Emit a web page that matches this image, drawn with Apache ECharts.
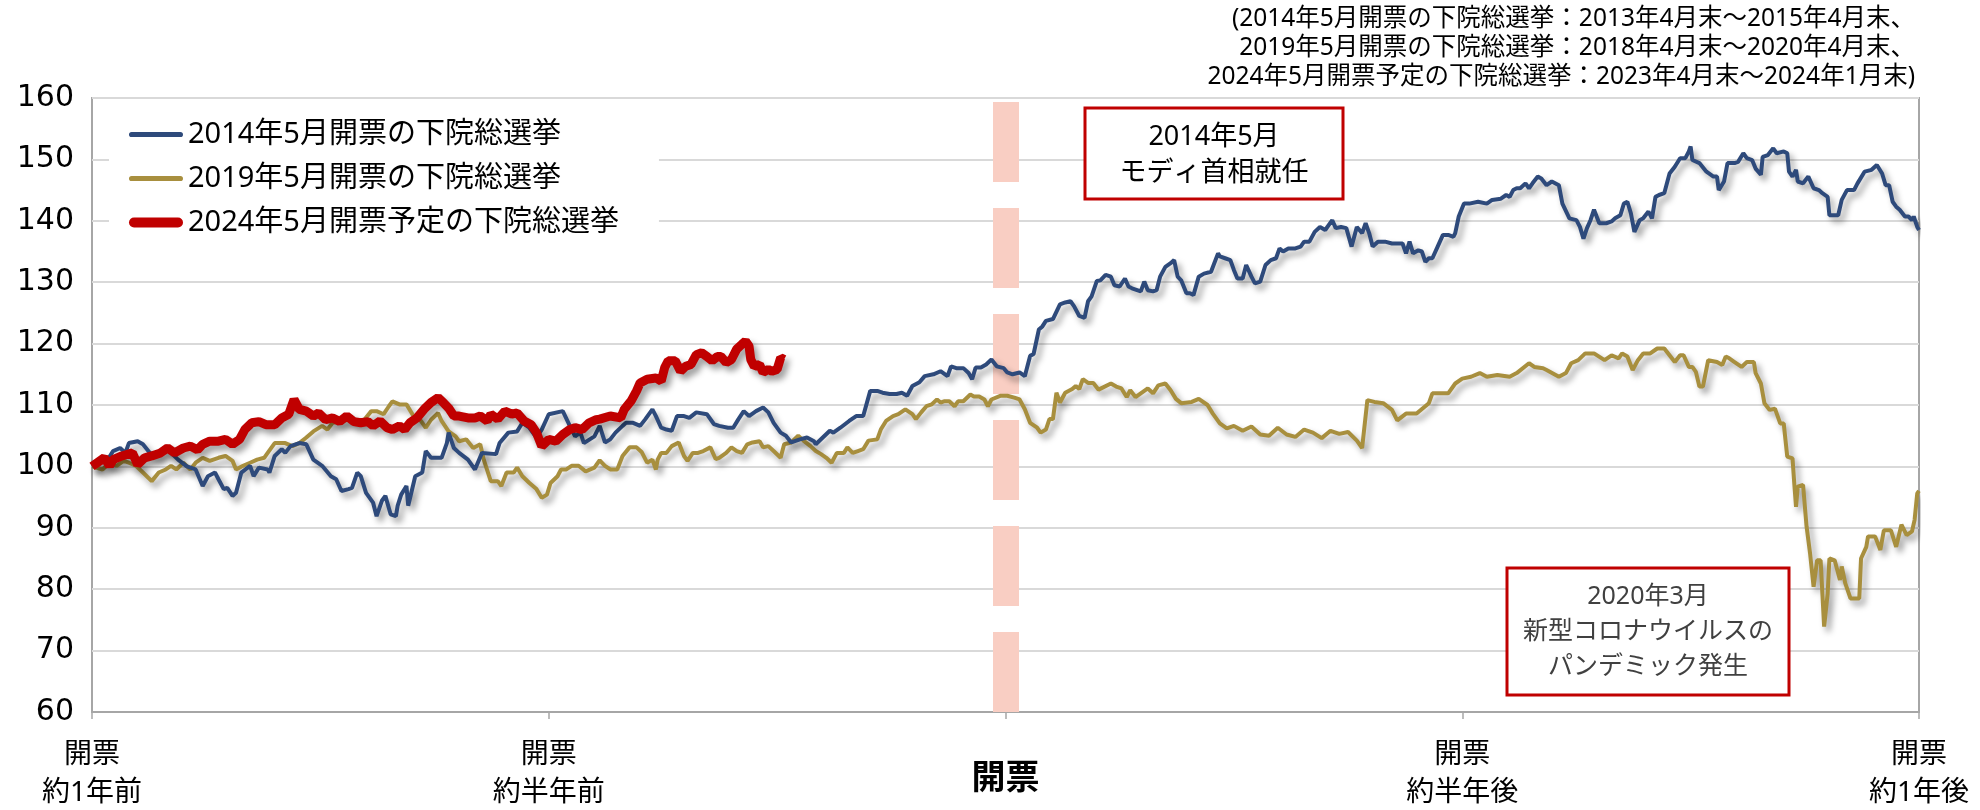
<!DOCTYPE html>
<html lang="ja">
<head>
<meta charset="utf-8">
<title>下院総選挙前後の株価推移</title>
<script src="https://cdn.jsdelivr.net/npm/echarts@6.0.0/dist/echarts.min.js"></script>
<style>
  html, body { margin: 0; padding: 0; background: #fff; }
  #main { width: 1980px; height: 810px; }
</style>
</head>
<body>
<div id="main"></div>
<script>
// x = 開票からの週数 (-52 = 約1年前, +52 = 約1年後)、y = 開始時点を100とした指数
const tickWeeks = [-52, -26, 0, 26, 52];
const tickLabels = ['開票\n約1年前', '開票\n約半年前', '開票', '開票\n約半年後', '開票\n約1年後'];
const seriesNames = ['2014年5月開票の下院総選挙', '2019年5月開票の下院総選挙', '2024年5月開票予定の下院総選挙'];

const s2014 = [
  [-52.0,100.0],[-51.1,101.1],[-50.8,102.5],[-50.4,103.0],[-50.1,102.2],[-49.9,103.8],[-49.4,104.1],[-49.1,103.6],[-48.7,102.2],[-48.3,101.7],
  [-48.0,102.8],[-47.7,103.3],[-47.5,102.2],[-47.1,101.1],[-46.6,100.0],[-46.1,99.5],[-45.7,96.8],[-45.4,98.4],[-45.0,99.0],[-44.8,97.9],
  [-44.5,96.3],[-44.3,96.5],[-44.0,95.2],[-43.8,95.7],[-43.5,99.0],[-43.0,100.1],[-42.8,98.4],[-42.5,99.8],[-42.0,99.5],[-41.9,99.0],
  [-41.6,101.7],[-41.2,102.8],[-41.0,102.2],[-40.7,103.3],[-40.2,103.8],[-39.8,103.6],[-39.4,101.1],[-38.9,100.1],[-38.4,98.4],[-38.1,97.9],
  [-37.8,96.0],[-37.4,96.3],[-37.2,96.5],[-36.9,99.0],[-36.7,98.4],[-36.4,95.7],[-36.0,94.1],[-35.8,91.9],[-35.5,94.4],[-35.3,95.2],
  [-35.0,92.2],[-34.7,91.9],[-34.6,93.6],[-34.4,95.4],[-34.1,96.8],[-34.0,93.6],[-33.6,98.4],[-33.2,99.0],[-33.0,102.5],[-32.7,101.4],
  [-32.1,101.4],[-31.8,103.8],[-31.7,105.5],[-31.4,103.0],[-31.1,102.2],[-30.6,101.1],[-30.2,99.5],[-29.8,102.2],[-29.0,102.0],[-28.8,103.8],
  [-28.3,105.5],[-27.8,105.7],[-27.5,107.1],[-27.1,106.3],[-26.7,104.7],[-26.4,106.0],[-26.0,108.5],[-25.2,109.0],[-24.8,106.6],[-24.5,104.9],
  [-24.2,105.5],[-24.0,103.8],[-23.4,104.9],[-23.1,106.6],[-22.8,103.9],[-22.5,104.4],[-22.2,105.5],[-21.8,106.6],[-21.6,107.1],[-21.2,107.1],
  [-20.8,106.6],[-20.5,107.7],[-20.1,109.3],[-19.9,108.2],[-19.6,106.3],[-19.3,106.0],[-19.0,105.8],[-18.7,108.2],[-18.3,108.2],[-18.0,107.9],
  [-17.6,108.8],[-17.0,108.5],[-16.6,106.9],[-16.3,106.6],[-15.8,106.3],[-15.5,106.3],[-15.2,107.7],[-14.9,109.0],[-14.6,108.2],[-14.2,109.0],
  [-13.8,109.6],[-13.5,108.8],[-13.2,107.1],[-12.8,105.5],[-12.5,105.0],[-12.2,103.9],[-11.7,104.4],[-11.3,104.7],[-10.9,104.1],[-10.8,103.6],
  [-10.4,104.7],[-10.0,105.8],[-9.8,105.5],[-9.4,106.3],[-8.9,107.4],[-8.5,108.2],[-8.1,108.2],[-7.7,112.3],[-7.3,112.3],[-7.0,112.0],
  [-6.6,111.8],[-6.2,111.8],[-5.9,112.0],[-5.6,111.5],[-5.3,113.1],[-4.9,113.7],[-4.6,114.7],[-4.1,115.0],[-3.7,115.5],[-3.3,114.7],
  [-3.1,116.3],[-2.8,116.0],[-2.4,116.0],[-2.1,115.2],[-1.9,114.2],[-1.7,116.1],[-1.4,116.1],[-1.1,116.6],[-0.8,117.4],[-0.5,116.3],
  [-0.1,116.0],[0.1,115.3],[0.4,115.0],[0.8,115.3],[1.1,114.7],[1.4,118.0],[1.6,118.3],[1.9,122.3],[2.1,122.8],[2.3,123.7],
  [2.7,124.0],[3.1,126.4],[3.4,126.7],[3.7,126.9],[3.9,126.1],[4.2,124.5],[4.5,124.2],[4.7,126.9],[4.9,127.7],[5.2,130.2],
  [5.4,130.3],[5.7,131.2],[6.0,130.9],[6.2,129.5],[6.5,129.3],[6.8,130.6],[7.0,129.3],[7.2,129.0],[7.7,128.5],[7.9,130.1],
  [8.1,128.7],[8.4,128.5],[8.6,128.7],[8.8,130.9],[9.1,132.5],[9.4,133.1],[9.6,133.6],[9.8,130.9],[10.0,130.3],[10.3,128.2],
  [10.5,128.2],[10.7,127.9],[11.0,130.9],[11.3,131.4],[11.7,131.7],[12.1,134.7],[12.2,134.2],[12.5,133.9],[12.8,133.6],[13.0,132.0],
  [13.2,130.6],[13.5,130.6],[13.7,132.8],[14.0,130.9],[14.2,129.8],[14.5,130.1],[14.8,132.8],[15.1,133.6],[15.4,133.9],[15.6,135.5],
  [15.8,135.0],[16.1,135.5],[16.5,135.5],[16.8,135.8],[17.0,136.6],[17.3,136.6],[17.6,138.2],[17.9,139.0],[18.2,138.5],[18.6,140.1],
  [18.8,138.8],[19.1,139.0],[19.4,138.8],[19.7,135.8],[20.0,139.0],[20.3,138.0],[20.5,139.6],[20.7,138.0],[20.9,135.8],[21.2,136.6],
  [21.6,136.6],[22.0,136.3],[22.3,136.3],[22.6,136.3],[22.8,134.7],[23.0,136.6],[23.2,134.7],[23.5,135.2],[23.7,135.0],[23.9,133.3],
  [24.1,133.9],[24.3,133.9],[24.6,135.8],[24.9,137.7],[25.2,137.7],[25.5,137.4],[25.6,138.0],[25.8,140.7],[26.1,142.8],[26.4,142.8],
  [26.9,143.1],[27.4,142.8],[27.7,143.4],[28.2,143.6],[28.5,144.2],[28.7,143.9],[28.9,145.0],[29.1,145.3],[29.3,145.3],[29.6,146.1],
  [29.8,145.3],[30.0,146.1],[30.3,147.2],[30.5,146.9],[30.8,145.8],[31.1,146.4],[31.5,145.8],[31.7,142.8],[32.1,140.4],[32.5,140.1],
  [32.7,139.0],[32.9,137.1],[33.1,138.8],[33.3,140.1],[33.5,141.8],[33.8,139.6],[34.2,139.6],[34.5,139.9],[34.7,140.4],[35.0,140.9],
  [35.2,142.8],[35.4,143.1],[35.6,141.2],[35.8,138.2],[36.1,140.1],[36.3,140.4],[36.6,141.5],[36.8,140.4],[37.0,143.9],[37.2,144.2],
  [37.5,144.5],[37.8,147.7],[38.1,148.8],[38.4,150.2],[38.7,150.2],[38.9,151.3],[39.0,152.1],[39.1,149.9],[39.5,149.4],[39.9,148.0],
  [40.3,147.2],[40.5,147.2],[40.6,145.0],[40.9,146.4],[41.1,149.4],[41.5,149.4],[41.7,149.6],[42.0,151.0],[42.2,150.2],[42.5,149.9],
  [42.7,148.5],[42.8,148.5],[43.0,147.5],[43.1,150.4],[43.4,150.7],[43.7,151.8],[43.9,151.0],[44.3,151.3],[44.5,151.0],[44.6,148.0],
  [44.8,147.2],[45.0,148.3],[45.1,146.4],[45.4,146.1],[45.7,147.2],[46.0,145.3],[46.3,145.0],[46.5,144.5],[46.8,143.9],[46.9,140.9],
  [47.4,140.9],[47.6,143.4],[47.9,145.0],[48.3,145.0],[48.5,146.1],[48.9,148.0],[49.3,148.3],[49.6,149.1],[49.9,147.7],[50.1,145.8],
  [50.3,145.8],[50.5,143.1],[50.7,142.3],[50.9,141.8],[51.2,140.7],[51.4,140.7],[51.6,140.1],[51.7,140.7],[51.9,139.0],[52.0,138.5]
];

const s2019 = [
  [-52.0,100.0],[-51.4,99.5],[-51.0,100.6],[-50.6,100.1],[-50.2,100.9],[-49.9,100.6],[-49.5,100.1],[-49.1,99.0],[-48.6,97.6],[-48.2,99.0],
  [-47.8,99.5],[-47.5,100.1],[-47.2,99.5],[-46.8,100.6],[-46.4,99.5],[-46.1,100.6],[-45.7,101.4],[-45.3,100.9],[-44.8,101.4],[-44.4,101.7],
  [-44.0,100.9],[-43.8,99.5],[-43.4,100.1],[-43.0,100.6],[-42.6,101.1],[-42.2,101.4],[-42.0,102.2],[-41.6,103.8],[-41.0,103.8],[-40.6,103.3],
  [-40.2,103.8],[-39.8,104.7],[-39.4,105.7],[-38.9,106.6],[-38.6,106.0],[-38.3,107.1],[-37.8,107.4],[-37.4,107.6],[-36.9,107.4],[-36.5,107.6],
  [-36.1,109.0],[-35.8,109.0],[-35.4,108.5],[-35.1,109.8],[-34.9,110.6],[-34.5,110.1],[-34.1,110.1],[-33.7,108.2],[-33.4,107.9],[-33.0,106.3],
  [-32.7,107.6],[-32.3,108.7],[-32.1,107.4],[-31.7,105.7],[-31.3,104.9],[-31.1,104.1],[-30.7,104.4],[-30.3,103.0],[-29.9,103.6],[-29.7,101.1],
  [-29.3,97.6],[-28.9,97.6],[-28.7,96.8],[-28.4,99.0],[-28.0,99.0],[-27.8,99.8],[-27.5,98.4],[-27.1,97.3],[-26.7,96.3],[-26.4,94.9],
  [-26.1,95.4],[-25.9,97.3],[-25.5,98.4],[-25.3,99.5],[-25.0,99.5],[-24.7,100.1],[-24.3,100.1],[-23.9,99.2],[-23.4,99.8],[-23.1,101.0],
  [-22.8,100.1],[-22.5,99.5],[-22.1,99.5],[-21.8,101.7],[-21.4,103.1],[-21.0,103.1],[-20.7,102.3],[-20.4,100.6],[-20.1,101.1],[-19.9,99.5],
  [-19.8,101.1],[-19.6,102.2],[-19.3,102.2],[-19.0,103.3],[-18.6,103.9],[-18.3,101.7],[-18.1,100.9],[-17.8,102.2],[-17.5,102.2],[-17.2,102.5],
  [-16.8,103.1],[-16.5,101.2],[-16.3,101.4],[-15.9,102.2],[-15.6,103.1],[-15.3,102.5],[-15.0,102.2],[-14.7,103.6],[-14.4,103.9],[-14.0,104.1],
  [-13.8,103.1],[-13.5,103.3],[-13.2,102.5],[-12.8,101.4],[-12.6,103.6],[-12.2,103.9],[-11.8,105.0],[-11.5,104.2],[-11.1,103.3],[-10.8,102.5],
  [-10.5,102.0],[-10.2,101.4],[-9.9,100.6],[-9.6,102.2],[-9.2,102.2],[-9.0,103.1],[-8.7,102.2],[-8.4,102.5],[-8.1,102.8],[-7.8,104.2],
  [-7.3,104.4],[-7.1,106.0],[-6.8,107.4],[-6.4,108.2],[-6.1,108.5],[-5.7,109.3],[-5.3,108.5],[-5.1,107.7],[-4.8,108.8],[-4.5,109.8],
  [-4.2,110.1],[-3.9,110.9],[-3.7,110.4],[-3.5,110.6],[-3.2,110.6],[-2.9,109.8],[-2.7,110.6],[-2.4,110.6],[-2.0,111.7],[-1.8,111.4],
  [-1.5,111.4],[-1.2,110.9],[-1.0,109.8],[-0.8,110.9],[-0.3,111.5],[0.1,111.5],[0.5,111.2],[0.8,110.9],[1.1,109.3],[1.4,107.1],
  [1.8,106.3],[2.0,105.5],[2.3,106.0],[2.5,107.7],[2.7,107.7],[2.9,112.0],[3.1,110.4],[3.4,112.0],[3.8,112.6],[4.0,113.1],
  [4.2,112.6],[4.4,114.2],[4.7,113.6],[5.0,113.6],[5.3,112.5],[6.0,113.5],[6.3,113.0],[6.6,112.7],[6.9,111.3],[7.1,112.4],
  [7.4,111.3],[7.7,111.9],[8.1,112.7],[8.4,111.9],[8.7,113.2],[9.1,113.5],[9.4,112.4],[9.7,111.0],[10.0,110.3],[10.6,110.5],
  [11.0,111.0],[11.5,110.0],[11.8,108.6],[12.2,107.0],[12.6,106.2],[13.0,106.6],[13.5,105.8],[14.0,106.5],[14.5,105.2],[15.0,105.0],
  [15.5,106.3],[16.0,105.2],[16.5,104.8],[17.0,106.0],[17.5,105.5],[18.0,104.6],[18.5,105.8],[19.0,105.3],[19.5,105.6],[20.0,104.2],
  [20.3,103.0],[20.6,110.8],[21.0,110.5],[21.5,110.3],[22.0,109.2],[22.3,107.5],[22.8,108.6],[23.4,108.6],[24.1,110.3],[24.3,111.9],
  [25.2,111.9],[25.6,113.5],[26.0,114.3],[26.5,114.6],[27.0,115.2],[27.4,114.6],[28.0,114.9],[28.7,114.6],[29.1,115.2],[29.8,116.8],
  [30.1,116.2],[30.6,116.0],[30.8,115.7],[31.5,114.6],[31.9,115.2],[32.2,116.8],[32.6,117.3],[33.0,118.4],[33.5,118.4],[34.1,117.3],
  [34.5,118.1],[34.9,117.6],[35.1,118.4],[35.4,117.9],[35.7,115.7],[36.0,117.3],[36.3,118.4],[36.7,118.4],[37.1,119.2],[37.5,119.2],
  [37.8,118.1],[38.1,117.0],[38.4,118.1],[38.6,118.1],[38.9,116.2],[39.1,116.2],[39.3,115.4],[39.5,113.0],[39.7,113.0],[40.0,117.3],
  [40.5,117.0],[40.8,116.5],[41.0,117.9],[41.2,117.6],[41.5,117.0],[41.9,116.2],[42.2,117.0],[42.6,117.0],[42.7,115.2],[43.0,113.5],
  [43.2,110.3],[43.5,109.2],[43.8,109.4],[44.1,107.0],[44.3,107.0],[44.5,101.6],[44.8,101.3],[44.9,97.2],[45.0,93.4],[45.1,96.7],
  [45.4,97.0],[45.6,90.2],[45.8,85.8],[46.0,80.4],[46.2,84.7],[46.4,84.7],[46.6,73.9],[46.8,79.3],[46.9,85.0],[47.2,84.7],
  [47.5,81.5],[47.6,83.7],[47.8,81.0],[48.1,78.5],[48.6,78.5],[48.7,85.0],[49.0,86.9],[49.1,88.6],[49.5,88.6],[49.8,86.4],
  [50.0,89.6],[50.4,89.6],[50.7,86.9],[51.0,90.5],[51.3,88.8],[51.6,89.4],[51.75,91.3],[51.9,95.6],[52.0,96.0]
];

const s2024 = [
  [-52.0,100.0],[-51.7,100.6],[-51.3,101.4],[-51.0,100.1],[-50.8,101.1],[-50.3,101.7],[-49.7,102.2],[-49.4,100.3],[-49.0,101.4],[-48.6,101.7],
  [-48.1,102.2],[-47.7,103.0],[-47.3,102.2],[-46.8,103.0],[-46.4,103.3],[-46.0,102.7],[-45.7,103.6],[-45.3,104.1],[-44.8,104.1],[-44.4,104.4],
  [-44.0,103.6],[-43.6,104.4],[-43.3,106.0],[-42.9,107.1],[-42.5,107.3],[-42.1,106.8],[-41.6,106.8],[-41.2,107.9],[-40.8,108.5],[-40.5,110.9],
  [-40.2,109.3],[-39.8,109.0],[-39.4,108.2],[-39.1,108.7],[-38.7,107.6],[-38.3,107.9],[-37.9,107.3],[-37.5,108.2],[-37.1,107.3],[-36.7,107.1],
  [-36.3,107.3],[-36.0,106.6],[-35.6,107.4],[-35.2,106.3],[-34.9,106.0],[-34.5,106.6],[-34.2,106.0],[-33.9,107.1],[-33.5,107.9],[-33.1,109.3],
  [-32.7,110.4],[-32.3,111.2],[-32.0,110.4],[-31.7,109.5],[-31.4,108.2],[-31.1,108.2],[-30.6,107.9],[-30.2,107.9],[-29.9,108.2],[-29.5,107.4],
  [-29.3,108.5],[-28.9,107.7],[-28.5,109.0],[-28.1,108.5],[-27.8,108.7],[-27.4,107.4],[-27.0,106.8],[-26.7,105.5],[-26.4,103.3],[-26.0,104.4],
  [-25.6,104.1],[-25.2,105.2],[-24.8,106.0],[-24.5,106.3],[-24.1,106.0],[-23.7,107.1],[-23.3,107.6],[-23.1,107.7],[-22.5,108.2],[-21.9,107.9],
  [-21.7,109.3],[-21.3,110.7],[-21.0,112.3],[-20.8,113.6],[-20.4,114.2],[-19.9,114.4],[-19.6,113.9],[-19.4,116.1],[-19.2,117.2],[-18.8,117.2],
  [-18.5,115.5],[-18.2,116.3],[-17.9,116.6],[-17.6,118.2],[-17.3,118.5],[-17.0,117.9],[-16.7,117.2],[-16.4,117.9],[-16.2,117.9],[-15.9,116.9],
  [-15.6,117.4],[-15.3,119.1],[-15.0,119.9],[-14.8,120.4],[-14.6,119.6],[-14.5,117.4],[-14.3,116.3],[-14.0,116.6],[-13.8,115.3],[-13.5,115.8],
  [-13.3,115.5],[-13.0,115.8],[-12.8,117.7],[-12.6,117.4]
];

const fontJP = "'Noto Sans', 'Noto Sans CJK JP', sans-serif";
const lineShadow = { shadowColor: 'rgba(0,0,0,0.38)', shadowBlur: 6, shadowOffsetX: 4, shadowOffsetY: 5 };
// 凡例の線（丸端）
const thinIcon = 'path://M2.5,0 H49.5 A2.5,2.5 0 0 1 49.5,5 H2.5 A2.5,2.5 0 0 1 2.5,0 Z';
const thickIcon = 'path://M5,0 H49 A5,5 0 0 1 49,10 H5 A5,5 0 0 1 5,0 Z';

const chart = echarts.init(document.getElementById('main'));

const option = {
  animation: false,
  backgroundColor: '#fff',
  textStyle: { fontFamily: fontJP },
  grid: {
    left: 92, right: 61, top: 98, bottom: 98,
    show: true, borderColor: '#A6A6A6', borderWidth: 2
  },
  legend: {
    data: [
      { name: seriesNames[0], icon: thinIcon },
      { name: seriesNames[1], icon: thinIcon },
      { name: seriesNames[2], icon: thickIcon }
    ],
    orient: 'vertical',
    left: 109, top: 110,
    itemWidth: 54, itemHeight: 14, itemGap: 15,
    symbolKeepAspect: true,
    padding: [10, 40, 10, 20],
    backgroundColor: '#fff',
    textStyle: { fontSize: 29, color: '#000', fontFamily: fontJP }
  },
  xAxis: {
    type: 'value',
    min: -52, max: 52, interval: 26,
    splitLine: { show: false },
    axisLine: { show: true, onZero: false, lineStyle: { color: '#A6A6A6', width: 2 } },
    axisTick: { show: true, length: 7, lineStyle: { color: '#A6A6A6', width: 1.5 } },
    axisLabel: {
      margin: 24,
      formatter: function (v) {
        const i = tickWeeks.indexOf(v);
        if (i < 0) return '';
        if (v === 0) return '{c|' + tickLabels[i] + '}';
        return tickLabels[i].split('\n').map(function (s) { return '{a|' + s + '}'; }).join('\n');
      },
      rich: {
        a: { fontSize: 28, lineHeight: 38, color: '#000', fontFamily: fontJP },
        c: { fontSize: 34, fontWeight: 'bold', lineHeight: 76, padding: [10, 0, 0, 0], color: '#000', fontFamily: fontJP }
      }
    }
  },
  yAxis: {
    type: 'value',
    min: 60, max: 160, interval: 10,
    axisLine: { show: false },
    axisTick: { show: false },
    splitLine: { lineStyle: { color: '#D9D9D9', width: 2 } },
    axisLabel: { fontSize: 30, color: '#000', margin: 18, fontFamily: "'DejaVu Sans', sans-serif" }
  },
  series: [
    {
      name: seriesNames[0],
      type: 'line',
      data: s2014,
      showSymbol: false, symbol: 'none',
      color: '#2E4A7B',
      lineStyle: Object.assign({ width: 4, color: '#2E4A7B' }, lineShadow),
      z: 3,
      markLine: {
        z: 1,
        silent: true,
        symbol: ['none', 'none'],
        label: { show: false },
        emphasis: { disabled: true },
        lineStyle: { color: '#F9CEC3', width: 26, type: [80, 26], cap: 'butt', shadowBlur: 0, shadowColor: 'rgba(0,0,0,0)' },
        data: [{ xAxis: 0 }]
      }
    },
    {
      name: seriesNames[1],
      type: 'line',
      data: s2019,
      showSymbol: false, symbol: 'none',
      color: '#A88F3E',
      lineStyle: Object.assign({ width: 4, color: '#A88F3E' }, lineShadow),
      z: 2
    },
    {
      name: seriesNames[2],
      type: 'line',
      data: s2024,
      showSymbol: false, symbol: 'none',
      color: '#C00000',
      lineStyle: Object.assign({ width: 9, color: '#C00000' }, lineShadow),
      z: 4
    }
  ],
  graphic: [
    {
      type: 'text', x: 1915, y: 5, z: 100,
      style: {
        text: '(2014年5月開票の下院総選挙：2013年4月末～2015年4月末、\n2019年5月開票の下院総選挙：2018年4月末～2020年4月末、\n2024年5月開票予定の下院総選挙：2023年4月末～2024年1月末)',
        align: 'right', verticalAlign: 'top',
        fontSize: 24.5, lineHeight: 29, fontFamily: fontJP, fill: '#000'
      }
    },
    {
      type: 'rect', z: 100,
      shape: { x: 1085, y: 108, width: 258, height: 91 },
      style: { fill: '#fff', stroke: '#C00000', lineWidth: 3 }
    },
    {
      type: 'text', x: 1214, y: 155, z: 101,
      style: {
        text: '2014年5月\nモディ首相就任',
        align: 'center', verticalAlign: 'middle',
        fontSize: 27, lineHeight: 36, fontFamily: fontJP, fill: '#000'
      }
    },
    {
      type: 'rect', z: 100,
      shape: { x: 1507, y: 568, width: 282, height: 127 },
      style: { fill: '#fff', stroke: '#C00000', lineWidth: 3 }
    },
    {
      type: 'text', x: 1648, y: 632, z: 101,
      style: {
        text: '2020年3月\n新型コロナウイルスの\nパンデミック発生',
        align: 'center', verticalAlign: 'middle',
        fontSize: 25, lineHeight: 35, fontFamily: fontJP, fill: '#404040'
      }
    }
  ]
};

chart.setOption(option);
</script>
</body>
</html>
